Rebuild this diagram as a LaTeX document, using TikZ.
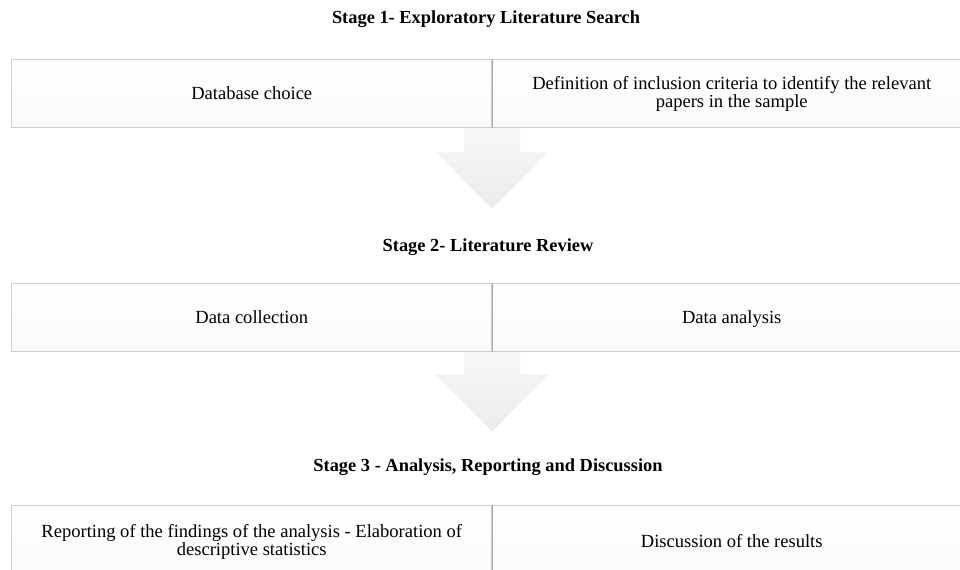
\documentclass[tikz,border=0pt]{standalone}
\usepackage{fontspec}
\setmainfont{Liberation Serif}
\usetikzlibrary{calc}
\definecolor{cellline}{RGB}{205,205,205}
\definecolor{divline}{RGB}{170,170,170}
\definecolor{arrtop}{RGB}{247,247,247}
\definecolor{arrbot}{RGB}{236,236,236}
\tikzset{
  px/.style={x=0.75pt,y=-0.75pt},
  title/.style={font=\fontsize{13.8}{16}\selectfont\bfseries, inner sep=0pt, anchor=center},
  cell/.style={draw=cellline, line width=1.1pt, top color=white, bottom color=black!2,
    minimum width=360pt, minimum height=51pt, inner sep=0pt, align=center,
    font=\fontsize{13.9}{12}\selectfont, anchor=north west},
  oneline/.style={text height=9.2pt, text depth=0pt},
  divider/.style={draw=divline, line width=1.1pt},
  bigarrow/.style={top color=arrtop, bottom color=arrbot, draw=none}
}
\begin{document}
\begin{tikzpicture}[px]
\useasboundingbox (0,0) rectangle (960,569);
\fill[white] (0,0) rectangle (960,569);
% Stage 1
\node[title] (t1) at (486,19) {\strut Stage 1- Exploratory Literature Search};
\node[cell, oneline] (l1) at (11,59) {Database choice};
\node[cell] (r1) at (491,59) {Definition of inclusion criteria to identify the relevant\\papers in the sample};
\draw[divider] (l1.north east) -- (l1.south east);
% arrow 1
\path[bigarrow] ($(l1.south east)+(-28,0)$) -- ($(l1.south east)+(28,0)$) -- ($(l1.south east)+(28,24)$)
  -- ($(l1.south east)+(56,24)$) -- ($(l1.south east)+(0,80)$) -- ($(l1.south east)+(-57,24)$)
  -- ($(l1.south east)+(-28,24)$) -- cycle;
% Stage 2
\node[title] (t2) at (488,247) {\strut Stage 2- Literature Review};
\node[cell, oneline] (l2) at (11,283) {Data collection};
\node[cell, oneline] (r2) at (491,283) {Data analysis};
\draw[divider] (l2.north east) -- (l2.south east);
% arrow 2
\path[bigarrow] ($(l2.south east)+(-28,0)$) -- ($(l2.south east)+(28,0)$) -- ($(l2.south east)+(28,22)$)
  -- ($(l2.south east)+(56,22)$) -- ($(l2.south east)+(0,79)$) -- ($(l2.south east)+(-57,22)$)
  -- ($(l2.south east)+(-28,22)$) -- cycle;
% Stage 3
\node[title] (t3) at (488,467) {\strut Stage 3 - Analysis, Reporting and Discussion};
\node[cell, minimum height=54pt] (l3) at (11,505) {Reporting of the findings of the analysis - Elaboration of\\descriptive statistics};
\node[cell, oneline, minimum height=54pt] (r3) at (491,505) {Discussion of the results};
\draw[divider] (l3.north east) -- (l3.south east);
\end{tikzpicture}
\end{document}
